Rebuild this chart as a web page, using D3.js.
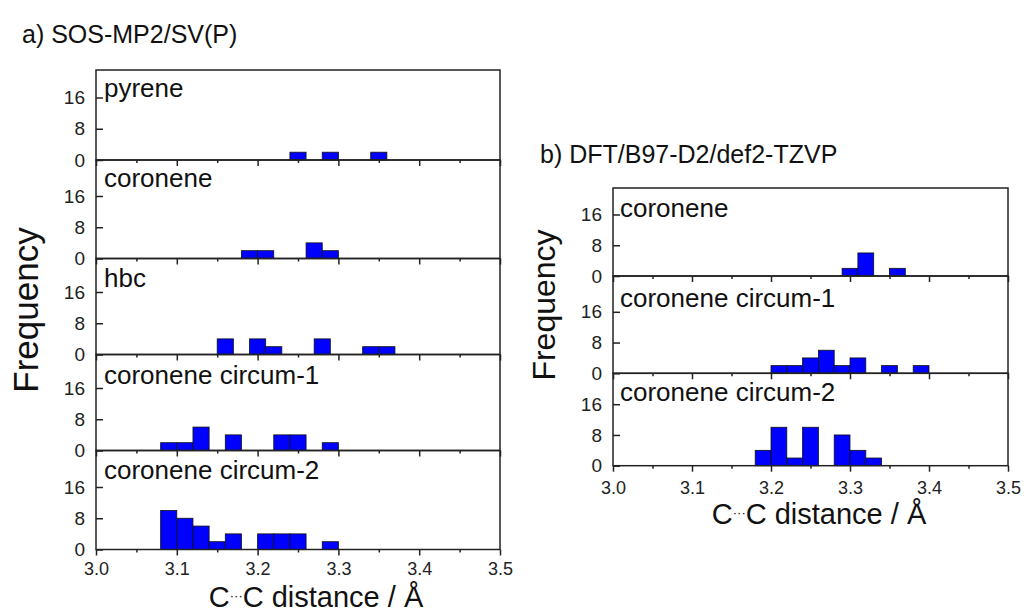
<!DOCTYPE html>
<html>
<head>
<meta charset="utf-8">
<script src="https://cdn.jsdelivr.net/npm/d3@7"></script>
<style>
  html, body { margin: 0; padding: 0; background: #fff; }
  svg { display: block; font-family: "Liberation Sans", Arial, sans-serif; }
</style>
</head>
<body>
<svg id="chart" width="1024" height="613"></svg>
<script>
// ---------------- data ----------------
const binWidth = 0.02;
const xTickValues = [3.0, 3.1, 3.2, 3.3, 3.4, 3.5];
const xMinorTicks = [3.05, 3.15, 3.25, 3.35, 3.45];
const yTickValues = [0, 8, 16];

// panel a) SOS-MP2/SV(P)
const aNames = ["pyrene", "coronene", "hbc", "coronene circum-1", "coronene circum-2"];
const aPyreneBins = [3.24, 3.28, 3.34];
const aPyreneCounts = [2, 2, 2];
const aCoroneneBins = [3.18, 3.20, 3.26, 3.28];
const aCoroneneCounts = [2, 2, 4, 2];
const aHbcBins = [3.15, 3.19, 3.21, 3.27, 3.33, 3.35];
const aHbcCounts = [4, 4, 2, 4, 2, 2];
const aCirc1Bins = [3.08, 3.10, 3.12, 3.16, 3.22, 3.24, 3.28];
const aCirc1Counts = [2, 2, 6, 4, 4, 4, 2];
const aCirc2Bins = [3.08, 3.10, 3.12, 3.14, 3.16, 3.20, 3.22, 3.24, 3.28];
const aCirc2Counts = [10, 8, 6, 2, 4, 4, 4, 4, 2];

// panel b) DFT/B97-D2/def2-TZVP
const bNames = ["coronene", "coronene circum-1", "coronene circum-2"];
const bCoroneneBins = [3.29, 3.31, 3.35];
const bCoroneneCounts = [2, 6, 2];
const bCirc1Bins = [3.20, 3.22, 3.24, 3.26, 3.28, 3.30, 3.34, 3.38];
const bCirc1Counts = [2, 2, 4, 6, 2, 4, 2, 2];
const bCirc2Bins = [3.18, 3.20, 3.22, 3.24, 3.28, 3.30, 3.32];
const bCirc2Counts = [4, 10, 2, 10, 8, 4, 2];

const aSeries = [
  [aPyreneBins, aPyreneCounts], [aCoroneneBins, aCoroneneCounts], [aHbcBins, aHbcCounts],
  [aCirc1Bins, aCirc1Counts], [aCirc2Bins, aCirc2Counts]
];
const bSeries = [
  [bCoroneneBins, bCoroneneCounts], [bCirc1Bins, bCirc1Counts], [bCirc2Bins, bCirc2Counts]
];

// ---------------- layout ----------------
const svg = d3.select("#chart");
const axisColor = "#222";
const barColor = "#0000ff";

function drawPanel(opt) {
  const x = d3.scaleLinear().domain([3.0, 3.5]).range([opt.x0, opt.x1]);
  const n = opt.names.length;
  opt.bottoms.forEach((bottom, i) => {
    const top = opt.tops[i];
    const y = d3.scaleLinear().domain([0, 16]).range([bottom, bottom - opt.unit16]);
    const g = svg.append("g");
    const [bins, counts] = opt.series[i];
    const data = bins.map((b, k) => ({ b, c: counts[k] }));

    // bars
    g.selectAll("rect.bar").data(data).enter().append("rect")
      .attr("x", d => x(d.b))
      .attr("width", d => x(d.b + binWidth) - x(d.b))
      .attr("y", d => y(d.c))
      .attr("height", d => y(0) - y(d.c))
      .attr("fill", barColor)
      .attr("stroke", "#111")
      .attr("stroke-width", 0.8);

    // frame
    g.append("rect")
      .attr("x", opt.x0).attr("y", top)
      .attr("width", opt.x1 - opt.x0).attr("height", bottom - top)
      .attr("fill", "none").attr("stroke", axisColor).attr("stroke-width", 1.5);

    // x axis (major ticks, outward)
    const xa = d3.axisBottom(x).tickValues(xTickValues).tickSize(6).tickSizeOuter(0)
      .tickFormat(i === n - 1 ? d3.format(".1f") : () => "");
    const gx = g.append("g").attr("transform", `translate(0,${bottom})`).call(xa);
    gx.select(".domain").remove();
    gx.selectAll("line").attr("stroke", axisColor).attr("stroke-width", 1.5);
    gx.selectAll("text").attr("font-size", 18).attr("fill", "#222").attr("dy", opt.xLabelDy)
      .attr("font-family", "Liberation Sans, Arial, sans-serif");
    // minor ticks
    const xm = d3.axisBottom(x).tickValues(xMinorTicks).tickSize(3).tickFormat(() => "");
    const gm = g.append("g").attr("transform", `translate(0,${bottom})`).call(xm);
    gm.select(".domain").remove();
    gm.selectAll("line").attr("stroke", axisColor).attr("stroke-width", 1.5);

    // y axis (inward ticks)
    const ya = d3.axisLeft(y).tickValues(yTickValues).tickSize(-7).tickPadding(11);
    const gy = g.append("g").attr("transform", `translate(${opt.x0},0)`).call(ya);
    gy.select(".domain").remove();
    gy.selectAll("line").attr("stroke", axisColor).attr("stroke-width", 1.5);
    gy.selectAll("text").attr("font-size", 19).attr("fill", "#222")
      .attr("font-family", "Liberation Sans, Arial, sans-serif");

    // subplot label
    g.append("text")
      .attr("x", opt.x0 + opt.labelDx)
      .attr("y", top + opt.labelDy[i])
      .attr("font-size", 26).attr("fill", "#111")
      .text(opt.names[i]);
  });

  // axis titles
  svg.append("text")
    .attr("transform", `translate(${opt.yTitleX},${opt.yTitleY}) rotate(-90)`)
    .attr("text-anchor", "middle")
    .attr("font-size", opt.yTitleSize).attr("fill", "#111")
    .text("Frequency");

  const t = svg.append("text")
    .attr("x", opt.xTitleX).attr("y", opt.xTitleY)
    .attr("text-anchor", "middle")
    .attr("font-size", opt.xTitleSize).attr("fill", "#111");
  t.append("tspan").text("C");
  t.append("tspan").attr("font-size", opt.xTitleSize * 0.45).attr("dy", -opt.xTitleSize * 0.25).text("\u00B7\u00B7\u00B7");
  t.append("tspan").attr("dy", opt.xTitleSize * 0.25).text("C distance / \u00C5");

  svg.append("text")
    .attr("x", opt.titleX).attr("y", opt.titleY)
    .attr("font-size", opt.titleSize).attr("fill", "#111")
    .text(opt.title);
}

drawPanel({
  title: "a) SOS-MP2/SV(P)", titleX: 22, titleY: 43, titleSize: 25,
  names: aNames, series: aSeries,
  x0: 96, x1: 500,
  tops: [70, 160, 258.5, 354.5, 450.5],
  bottoms: [160, 258.5, 354.5, 450.5, 549.5],
  unit16: 62.5,
  labelDx: 8, labelDy: [27, 27, 28, 29, 28],
  xLabelDy: "0.92em",
  yTitleX: 38, yTitleY: 310, yTitleSize: 35,
  xTitleX: 316, xTitleY: 607, xTitleSize: 29
});

drawPanel({
  title: "b) DFT/B97-D2/def2-TZVP", titleX: 540, titleY: 163, titleSize: 25,
  names: bNames, series: bSeries,
  x0: 613, x1: 1008,
  tops: [188, 276, 373.3],
  bottoms: [276, 373.3, 465.7],
  unit16: 61.5,
  labelDx: 7, labelDy: [29, 31, 28],
  xLabelDy: "1.05em",
  yTitleX: 555, yTitleY: 305, yTitleSize: 32,
  xTitleX: 819, xTitleY: 524, xTitleSize: 29
});
</script>
</body>
</html>
